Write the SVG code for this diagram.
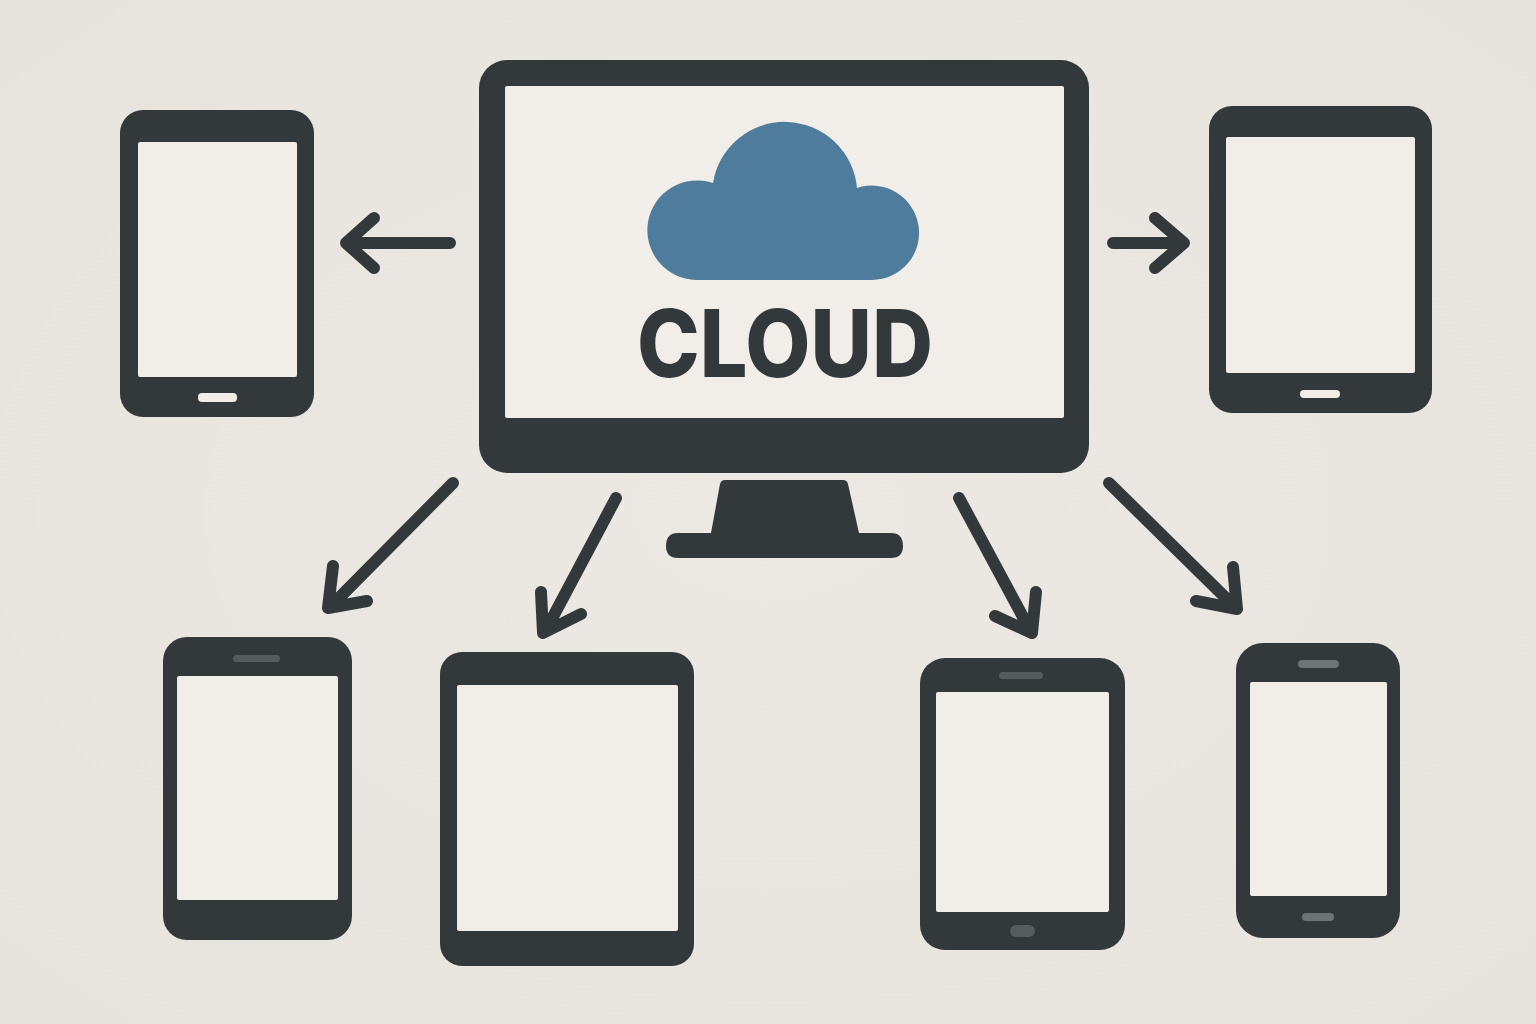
<svg xmlns="http://www.w3.org/2000/svg" width="1536" height="1024" viewBox="0 0 1536 1024">
<defs>
<radialGradient id="bg" cx="50%" cy="50%" r="70%"><stop offset="0" stop-color="#ece9e4"/><stop offset="1" stop-color="#e7e4de"/></radialGradient>
</defs>
<style>
.b{fill:#33393b}.s{fill:#f1eee9}.g{fill:#565c5d}.l{fill:#6e7374}
.a{fill:none;stroke:#33393b;stroke-width:12;stroke-linecap:round;stroke-linejoin:round}
text{font-family:"Inter","Liberation Sans",sans-serif;font-weight:800;font-size:93px;fill:#33393b}
</style>
<rect width="1536" height="1024" fill="url(#bg)"/>
<g id="connectors">
<path class="a" d="M450 243H347M374 218L346 243L374 268"/>
<path class="a" d="M1113 243H1183M1155 218L1184 243L1155 268"/>
<path class="a" d="M453 483L332 605M333 566L328 608L367 601"/>
<path class="a" d="M616 498L546 630M541 592L543 633L581 614"/>
<path class="a" d="M959 498L1030 630M995 616L1032 633L1036 592"/>
<path class="a" d="M1109 483L1235 607M1196 601L1237 609L1233 567"/>
</g>
<g id="monitor">
<rect class="b" x="479" y="60" width="610" height="413" rx="28"/>
<rect class="s" x="505" y="86" width="559" height="332" rx="2"/>
<path class="b" d="M725 480H843Q847 480 848 484L859 533H891Q903 533 903 546Q903 558 891 558H678Q666 558 666 546Q666 533 678 533H711L720 484Q721 480 725 480Z"/>
<path id="cloud" fill="#4f7b9d" d="M696 280A49.800 49.800 0 1 1 713 183A72.600 72.600 0 0 1 857 188A47.200 47.200 0 1 1 872 280Z"/>
<text x="785" y="377" text-anchor="middle" textLength="296" lengthAdjust="spacingAndGlyphs">CLOUD</text>
</g>
<g id="device-top-left">
<rect class="b" x="120" y="110" width="194" height="307" rx="23"/>
<rect class="s" x="138" y="142" width="159" height="235" rx="2"/>
<rect class="s" x="198" y="393" width="39" height="9" rx="4"/>
</g>
<g id="device-top-right">
<rect class="b" x="1209" y="106" width="223" height="307" rx="23"/>
<rect class="s" x="1226" y="137" width="189" height="236" rx="2"/>
<rect class="s" x="1300" y="390" width="40" height="8" rx="4"/>
</g>
<g id="device-bottom-1">
<rect class="b" x="163" y="637" width="189" height="303" rx="24"/>
<rect class="s" x="177" y="676" width="161" height="224" rx="2"/>
<rect class="g" x="233" y="655" width="47" height="7" rx="3.500"/>
</g>
<g id="device-bottom-2">
<rect class="b" x="440" y="652" width="254" height="314" rx="22"/>
<rect class="s" x="457" y="685" width="221" height="246" rx="2"/>
</g>
<g id="device-bottom-3">
<rect class="b" x="920" y="658" width="205" height="292" rx="25"/>
<rect class="s" x="936" y="692" width="173" height="220" rx="2"/>
<rect class="g" x="999" y="672" width="44" height="7" rx="3.500"/>
<rect class="g" x="1010" y="925" width="25" height="12" rx="6"/>
</g>
<g id="device-bottom-4">
<rect class="b" x="1236" y="643" width="164" height="295" rx="27"/>
<rect class="s" x="1250" y="682" width="137" height="214" rx="2"/>
<rect class="l" x="1298" y="660" width="41" height="8" rx="4"/>
<rect class="l" x="1302" y="913" width="32" height="8" rx="4"/>
</g>
</svg>
